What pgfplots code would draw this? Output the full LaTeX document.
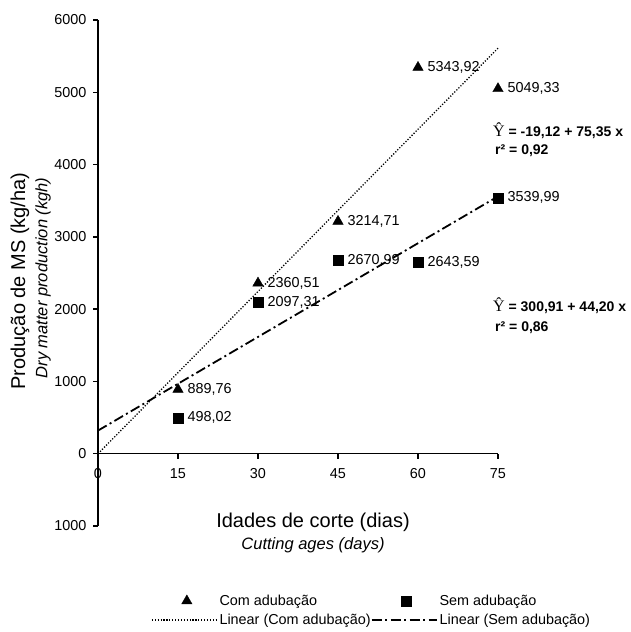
\documentclass[border=0pt]{standalone}
\usepackage{fontspec}
\setmainfont{Liberation Sans}
\newfontfamily\yfont{Liberation Serif}
\usepackage{pgfplots}
\pgfplotsset{compat=1.18}
\pgfplotsset{
  markleg/.style={legend image code/.code={\draw[##1] plot coordinates {(35pt,0pt)};}},
  lineleg/.style={legend image code/.code={\draw[##1] (0pt,0pt) -- (65pt,0pt);}},
}
\newcommand{\yhat}{{\yfont\mdseries\fontsize{16}{18}\selectfont Ŷ}}
\pgfplotstableread{
x y label
15 889.76 889,76
30 2360.51 2360,51
45 3214.71 3214,71
60 5343.92 5343,92
75 5049.33 5049,33
}\comdata
\pgfplotstableread{
x y label
15 498.02 498,02
30 2097.31 2097,31
45 2670.99 2670,99
60 2643.59 2643,59
75 3539.99 3539,99
}\semdata
\begin{document}
\begin{tikzpicture}
\useasboundingbox (0,0) rectangle (630pt,632pt);
\begin{axis}[
  at={(98pt,106pt)}, anchor=south west,
  width=400pt, height=506pt, scale only axis,
  xmin=0, xmax=75, ymin=-1000, ymax=6000,
  axis lines=middle,
  axis line style={-, line width=1.5pt},
  xtick={0,15,30,45,60,75},
  ytick={-1000,0,1000,2000,3000,4000,5000,6000},
  yticklabels={1000,0,1000,2000,3000,4000,5000,6000},
  tick align=outside, major tick length=5pt,
  every tick/.style={black, line width=1.3pt},
  hide obscured x ticks=false, hide obscured y ticks=false,
  tick label style={font=\fontsize{14.4}{16}\selectfont},
  xticklabel style={yshift=-6pt},
  yticklabel style={xshift=-3pt},
  /pgf/number format/assume math mode=true,
  clip=false,
  legend columns=2,
  legend cell align=left,
  legend style={draw=none, fill=none, at={(0.125,-0.128)}, anchor=north west,
    font=\fontsize{14.4}{16}\selectfont, row sep=3pt,
    /tikz/every even column/.append style={column sep=-2pt}},
  every node near coord/.append style={anchor=west, xshift=6pt, font=\fontsize{14.4}{16}\selectfont, black},
]
\addplot[black, only marks, mark=triangle*, mark size=6pt,
  nodes near coords, point meta=explicit symbolic, markleg]
  table[x=x, y=y, meta=label] {\comdata};
\addlegendentry{Com adubação}
\addplot[black, only marks, mark=square*, mark size=5pt,
  nodes near coords, point meta=explicit symbolic, markleg]
  table[x=x, y=y, meta=label] {\semdata};
\addlegendentry{Sem adubação}
\addplot[black, line width=1.3pt, dash pattern=on 1.2pt off 1.7pt, lineleg]
  coordinates {(0,0) (75,5610)};
\addlegendentry{Linear (Com adubação)}
\addplot[black, line width=1.8pt, dash pattern=on 10pt off 3.5pt on 2pt off 3.5pt, lineleg]
  coordinates {(0,320) (15,968) (30,1616) (45,2264) (60,2912) (75,3560)};
\addlegendentry{Linear (Sem adubação)}
\end{axis}
\node[rotate=90, font=\fontsize{20}{22}\selectfont] at (20pt,351pt) {Produção de MS (kg/ha)};
\node[rotate=90, font=\fontsize{16.5}{18}\selectfont\itshape] at (43pt,354pt) {Dry matter production (kgh)};
\node[anchor=base, font=\fontsize{20}{22}\selectfont] at (313pt,104pt) {Idades de corte (dias)};
\node[anchor=base, font=\fontsize{16.5}{18}\selectfont\itshape] at (313pt,82pt) {Cutting ages (days)};
\node[anchor=base west, inner sep=0pt, font=\fontsize{14}{16}\selectfont\bfseries] at (493pt,495pt) {\yhat\ = -19,12 + 75,35 x};
\node[anchor=base west, inner sep=0pt, font=\fontsize{14}{16}\selectfont\bfseries] at (495pt,477pt) {r² = 0,92};
\node[anchor=base west, inner sep=0pt, font=\fontsize{14}{16}\selectfont\bfseries] at (493pt,320pt) {\yhat\ = 300,91 + 44,20 x};
\node[anchor=base west, inner sep=0pt, font=\fontsize{14}{16}\selectfont\bfseries] at (495pt,300pt) {r² = 0,86};
\end{tikzpicture}
\end{document}
